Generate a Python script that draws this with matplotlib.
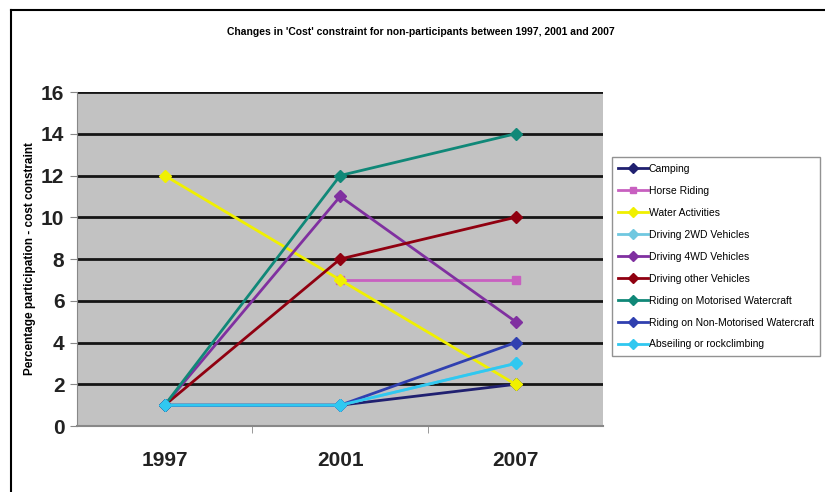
import numpy as np
import matplotlib.pyplot as plt
from matplotlib.lines import Line2D

plt.rcParams['font.family'] = ['Liberation Sans', 'DejaVu Sans']

years = ['1997', '2001', '2007']
series_names = ['Camping', 'Horse Riding', 'Water Activities', 'Driving 2WD Vehicles',
                'Driving 4WD Vehicles', 'Driving other Vehicles',
                'Riding on Motorised Watercraft', 'Riding on Non-Motorised Watercraft',
                'Abseiling or rockclimbing']
camping = [1, 1, 2]
horse_riding = [np.nan, 7, 7]
water = [12, 7, 2]
driving_2wd = [1, 1, 3]
driving_4wd = [1, 11, 5]
driving_other = [1, 8, 10]
motorised = [1, 12, 14]
non_motorised = [1, 1, 4]
abseiling = [1, 1, 3]

values = [camping, horse_riding, water, driving_2wd, driving_4wd, driving_other,
          motorised, non_motorised, abseiling]
colors = ['#202070', '#c860c0', '#f0f000', '#70c8e0', '#8030a0', '#900010',
          '#108878', '#3040b0', '#30c8f0']
markers = ['D', 's', 'D', 'D', 'D', 'D', 'D', 'D', 'D']

fig = plt.figure(figsize=(8.25, 4.92), dpi=100)
fig.patch.set_facecolor('white')
ax = fig.add_axes([0.0933, 0.134, 0.638, 0.679])
ax.set_facecolor('#c2c2c2')

x = np.arange(len(years))
for vals, c, m, name in zip(values, colors, markers, series_names):
    ax.plot(x, vals, color=c, lw=2, marker=m, ms=6, label=name, zorder=3)

ax.set_xlim(-0.5, 2.5)
ax.set_ylim(0, 16)
ax.set_yticks(range(0, 17, 2))
ax.set_xticks(x)
ax.set_xticklabels(years)
ax.set_xticks([0.5, 1.5], minor=True)
ax.tick_params(axis='x', which='major', length=0, pad=18, labelsize=15)
ax.tick_params(axis='x', which='minor', length=5, color='#888888')
ax.tick_params(axis='y', length=5, color='#888888', labelsize=15, pad=4)
for lbl in ax.get_xticklabels() + ax.get_yticklabels():
    lbl.set_fontweight('bold')
    lbl.set_color('#222222')

for yv in range(2, 17, 2):
    ax.axhline(yv, color='#151515', lw=2, zorder=1)

for s in ['top', 'right']:
    ax.spines[s].set_visible(False)
ax.spines['left'].set_color('#888888')
ax.spines['bottom'].set_color('#888888')
ax.spines['bottom'].set_linewidth(1.5)

ax.set_ylabel('Percentage participation - cost constraint', fontsize=8.5,
              fontweight='bold', labelpad=4)

fig.text(0.51, 0.935, "Changes in 'Cost' constraint for non-participants between 1997, 2001 and 2007",
         ha='center', va='center', fontsize=7.5, fontweight='bold')

handles = [Line2D([], [], color=c, lw=2, marker=m, ms=5) for c, m in zip(colors, markers)]
leg = fig.legend(handles, series_names, loc='center', bbox_to_anchor=(0.74, 0.272, 0.256, 0.413),
                 fontsize=7.5, frameon=True, fancybox=False, edgecolor='#777777',
                 handlelength=2.8, handletextpad=0.1, labelspacing=1.15, borderaxespad=0,
                 borderpad=0.6)
leg.get_frame().set_linewidth(1)

# outer frame (left and top only)
fig.add_artist(Line2D([0.013, 0.013], [0, 0.98], color='black', lw=1.5, transform=fig.transFigure))
fig.add_artist(Line2D([0.013, 1.0], [0.98, 0.98], color='black', lw=1.5, transform=fig.transFigure))

fig.savefig('out.png', dpi=100)
